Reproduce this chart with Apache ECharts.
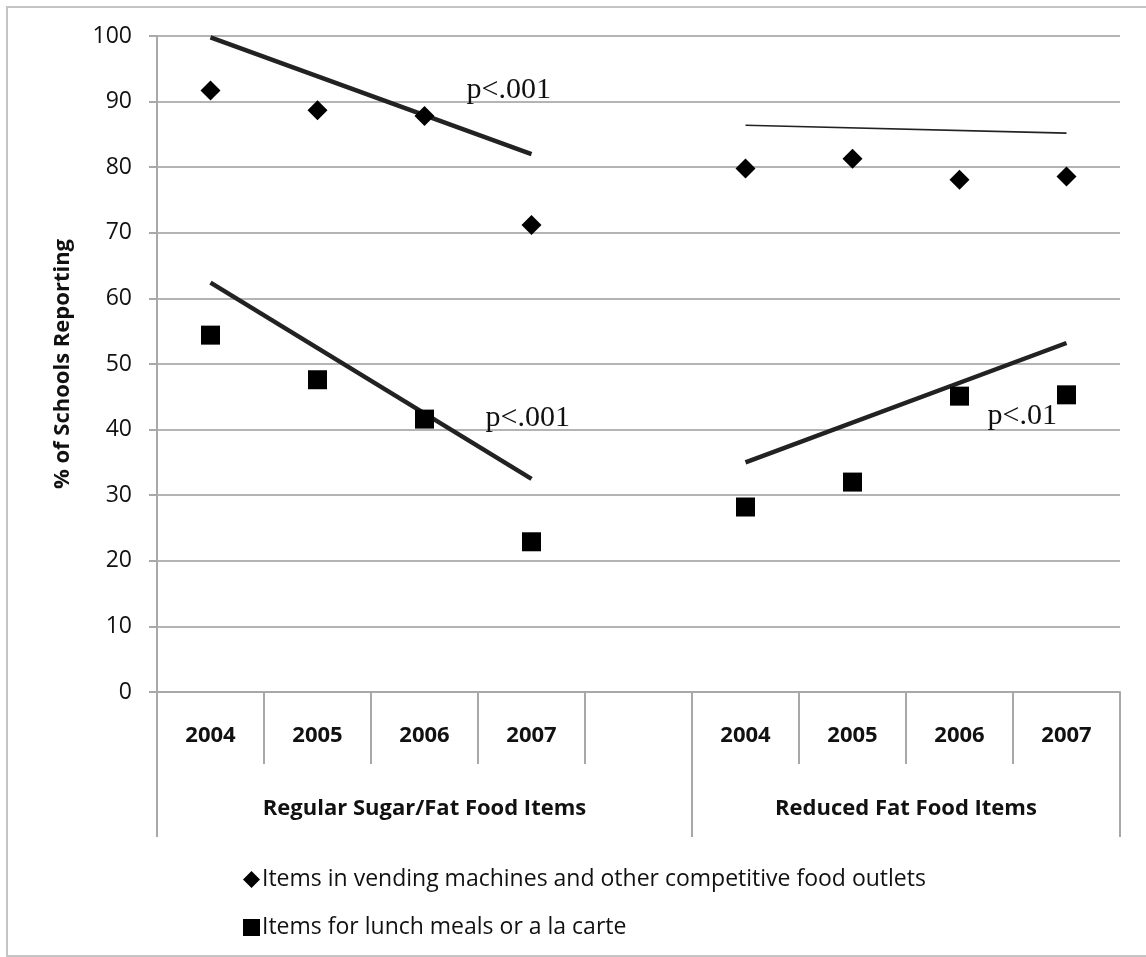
<!DOCTYPE html>
<html>
<head>
<meta charset="utf-8">
<script src="https://cdn.jsdelivr.net/npm/echarts@6/dist/echarts.min.js"></script>
<style>
  html, body { margin: 0; padding: 0; background: #ffffff; }
  #chart { width: 1146px; height: 957px; }
</style>
</head>
<body>
<div id="chart"></div>
<script>
// Survey years shown within each food-item group
const years = ['2004', '2005', '2006', '2007'];
const groupNames = ['Regular Sugar/Fat Food Items', 'Reduced Fat Food Items'];
const seriesNames = [
  'Items in vending machines and other competitive food outlets',
  'Items for lunch meals or a la carte'
];

// % of schools reporting, per year
const vendingRegular = [91.7, 88.7, 87.8, 71.2];
const vendingReduced = [79.8, 81.3, 78.1, 78.6];
const lunchRegular = [54.4, 47.6, 41.6, 22.9];
const lunchReduced = [28.2, 32.0, 45.1, 45.3];

// Trend line values at 2004 and 2007
const trendVendingRegular = [99.8, 82.0];
const trendVendingReduced = [86.4, 85.2];
const trendLunchRegular = [62.4, 32.5];
const trendLunchReduced = [35.0, 53.2];

// Significance labels for the trends
const pVendingRegular = 'p<.001';
const pLunchRegular = 'p<.001';
const pLunchReduced = 'p<.01';

// Category axis: first group, an empty spacer slot, second group
const categories = [...years, '', ...years];
const secondStart = years.length + 1;
const gap = '-';

function spread(first, second) {
  return [...first, gap, ...second];
}
function trendRow(ends, start) {
  const row = categories.map(() => gap);
  row[start] = ends[0];
  row[start + years.length - 1] = ends[1];
  return row;
}

// Slots of the group axis: a label in the middle of each group
const groupSlots = categories.map(() => '');
groupSlots[Math.floor(years.length / 2)] = groupNames[0];
groupSlots[secondStart + Math.floor(years.length / 2) - 1] = {
  value: groupNames[1],
  textStyle: { padding: [0, 0, 0, 107] }
};

const ink = '#111111';
const rule = '#b4b4b4';
const axisGray = '#a8a8a8';
const sans = 'Open Sans';
const serif = 'Liberation Serif';
const diamondPath = 'path://M0,-1L1,0L0,1L-1,0Z';

function trendSeries(ends, start, width, pText, pCoord, pOffset) {
  const s = {
    type: 'line',
    data: trendRow(ends, start),
    connectNulls: true,
    showSymbol: false,
    symbol: 'none',
    silent: true,
    z: 3,
    lineStyle: { color: '#222222', width: width, cap: 'butt', opacity: 1 }
  };
  if (pText) {
    s.markPoint = {
      symbol: 'circle',
      symbolSize: 0,
      silent: true,
      data: [{ coord: pCoord, value: pText }],
      label: {
        show: true,
        position: 'inside',
        align: 'left',
        verticalAlign: 'middle',
        offset: pOffset,
        formatter: pText,
        fontFamily: serif,
        fontSize: 30,
        color: ink
      }
    };
  }
  return s;
}

const chart = echarts.init(document.getElementById('chart'), null, { renderer: 'canvas' });

chart.setOption({
  backgroundColor: '#ffffff',
  animation: false,
  textStyle: { fontFamily: sans, color: ink },
  graphic: [{
    type: 'rect',
    shape: { x: 7, y: 7, width: 1160, height: 949 },
    style: { fill: 'none', stroke: '#c4c4c4', lineWidth: 2 },
    silent: true,
    z: -10
  }],
  grid: { left: 157, right: 26, top: 36, bottom: 265 },
  legend: {
    orient: 'vertical',
    left: 238,
    top: 863,
    itemWidth: 17,
    itemHeight: 17,
    itemGap: 25,
    selectedMode: false,
    textStyle: { fontFamily: sans, fontSize: 23, color: ink, padding: [0, 0, 0, -3] },
    data: [
      { name: seriesNames[0], icon: diamondPath, itemStyle: { color: '#000000', opacity: 1 } },
      { name: seriesNames[1], icon: 'rect', itemStyle: { color: '#000000', opacity: 1 } }
    ]
  },
  xAxis: [{
    type: 'category',
    data: categories,
    boundaryGap: true,
    axisLine: { show: true, lineStyle: { color: axisGray, width: 2 } },
    axisTick: { show: true, interval: 0, length: 72, lineStyle: { color: axisGray, width: 2 } },
    axisLabel: { interval: 0, margin: 33, fontFamily: sans, fontWeight: 'bold', fontSize: 22, color: ink },
    splitLine: { show: false }
  }, {
    type: 'category',
    data: groupSlots,
    position: 'bottom',
    offset: 0,
    boundaryGap: true,
    axisLine: { show: false },
    axisTick: {
      show: true,
      interval: (i) => i === 0 || i === secondStart,
      length: 145,
      lineStyle: { color: axisGray, width: 2 }
    },
    axisLabel: { interval: 0, margin: 106, fontFamily: sans, fontWeight: 'bold', fontSize: 22, color: ink },
    splitLine: { show: false }
  }],
  yAxis: {
    type: 'value',
    min: 0,
    max: 100,
    interval: 10,
    name: '% of Schools Reporting',
    nameLocation: 'middle',
    nameGap: 83,
    nameTextStyle: { fontFamily: sans, fontWeight: 'bold', fontSize: 22, color: ink },
    axisLine: { show: true, lineStyle: { color: axisGray, width: 2 } },
    axisTick: { show: true, length: 8, lineStyle: { color: axisGray, width: 2 } },
    axisLabel: { margin: 25, fontFamily: sans, fontSize: 23, color: ink },
    splitLine: { show: true, lineStyle: { color: rule, width: 2 } }
  },
  series: [
    {
      name: seriesNames[0],
      type: 'scatter',
      data: spread(vendingRegular, vendingReduced),
      symbol: 'diamond',
      symbolSize: 20,
      itemStyle: { color: '#000000', opacity: 1 },
      z: 4
    },
    {
      name: seriesNames[1],
      type: 'scatter',
      data: spread(lunchRegular, lunchReduced),
      symbol: 'rect',
      symbolSize: 19,
      itemStyle: { color: '#000000', opacity: 1 },
      z: 4
    },
    trendSeries(trendVendingRegular, 0, 4.5, pVendingRegular, [2, 90], [42, -11]),
    trendSeries(trendVendingReduced, secondStart, 1.6),
    trendSeries(trendLunchRegular, 0, 4.5, pLunchRegular, [2, 40], [61, -11]),
    trendSeries(trendLunchReduced, secondStart, 4.5, pLunchReduced, [7, 40], [28, -13])
  ]
});
</script>
</body>
</html>
